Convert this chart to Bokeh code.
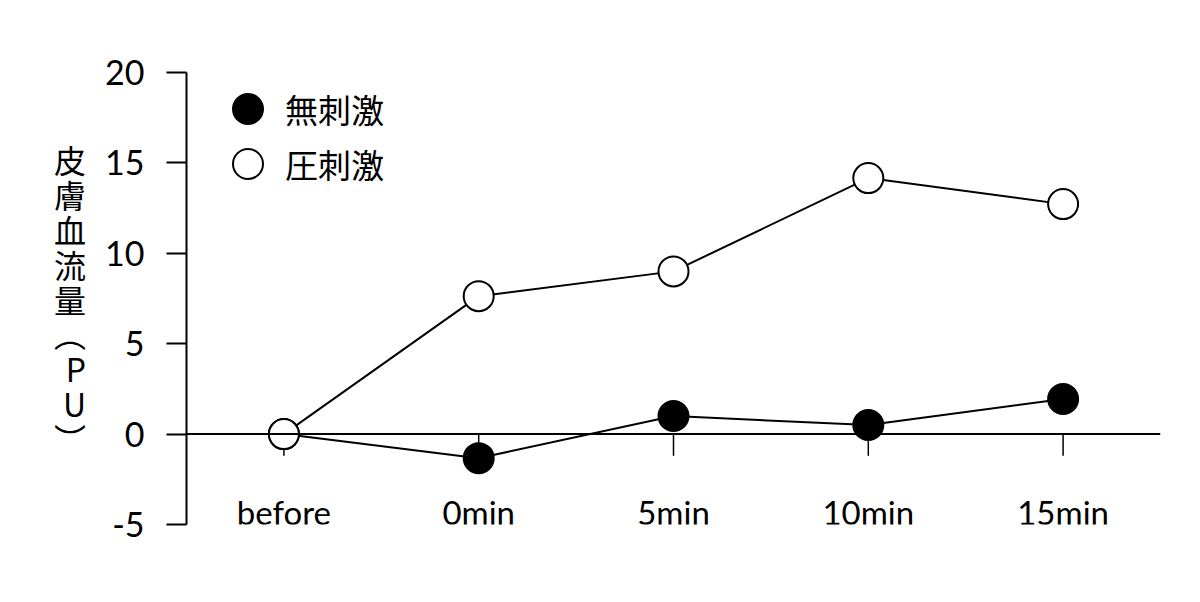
from bokeh.core.properties import value
from bokeh.embed import file_html
from bokeh.models import (ColumnDataSource, FactorRange, Legend, LegendItem,
                          PrintfTickFormatter, Range1d, Span)
from bokeh.plotting import figure
from bokeh.resources import INLINE

# data
times = ["before", "0min", "5min", "10min", "15min"]
no_stim = [0.0, -1.33, 1.0, 0.5, 1.94]
pressure_stim = [0.0, 7.63, 9.0, 14.16, 12.72]
y_ticks = [-5, 0, 5, 10, 15, 20]
y_title = "皮膚血流量︵PU︶"
series_names = ["無刺激", "圧刺激"]

LATIN = "Lato"
CJK = "Noto Sans CJK JP"

p = figure(width=1184, height=594, x_range=FactorRange(factors=times, range_padding=0),
           y_range=Range1d(-5, 20), output_backend="svg", toolbar_location=None,
           min_border_left=186, min_border_right=24, min_border_top=72, min_border_bottom=70)
p.outline_line_color = None
p.grid.grid_line_color = None

# x axis is drawn by hand along y=0, labels sit low inside the frame
p.xaxis.visible = False
p.add_layout(Span(location=0, dimension="width", line_color="black", line_width=2))
p.segment(x0=times, y0=[0] * len(times), x1=times, y1=[-1.2] * len(times),
          line_color="black", line_width=1.5)
p.text(x=times, y=[-4.3] * len(times), text=times, text_align="center", text_baseline="middle",
       text_font=value(LATIN), text_font_size="33px", text_color="black")

ax = p.yaxis[0]
ax.ticker = y_ticks
ax.formatter = PrintfTickFormatter(format="%d")
ax.axis_line_color = "black"
ax.axis_line_width = 2
ax.major_tick_line_color = "black"
ax.major_tick_line_width = 2
ax.major_tick_in = 0
ax.major_tick_out = 20
ax.minor_tick_line_color = None
ax.major_label_text_font = LATIN
ax.major_label_text_font_size = "34px"
ax.major_label_text_color = "black"
ax.major_label_standoff = 22
ax.axis_label = "\n".join(y_title)
ax.axis_label_orientation = "horizontal"
ax.axis_label_text_font = CJK
ax.axis_label_text_font_style = "normal"
ax.axis_label_text_font_size = "32px"
ax.axis_label_text_line_height = 0.76
ax.axis_label_text_color = "black"
ax.axis_label_standoff = 16

src_a = ColumnDataSource(dict(x=times, y=no_stim))
src_b = ColumnDataSource(dict(x=times, y=pressure_stim))

p.line("x", "y", source=src_a, line_color="black", line_width=2)
ra = p.scatter("x", "y", source=src_a, size=30, fill_color="black", line_color="black", line_width=2)
p.line("x", "y", source=src_b, line_color="black", line_width=2)
rb = p.scatter("x", "y", source=src_b, size=30, fill_color="white", line_color="black", line_width=2)

# one legend per row so the markers can be large while rows stay close
for name, r, loc in [(series_names[0], ra, (24, 378)), (series_names[1], rb, (24, 323))]:
    lg = Legend(items=[LegendItem(label=name, renderers=[r])], location=loc,
                border_line_color=None, background_fill_alpha=0,
                glyph_width=75, glyph_height=75, spacing=0, padding=0, margin=0,
                label_standoff=0, label_text_font=CJK, label_text_font_size="33px",
                label_text_color="black", label_text_baseline="middle")
    p.add_layout(lg)

open("out.html", "w").write(file_html(p, INLINE))
